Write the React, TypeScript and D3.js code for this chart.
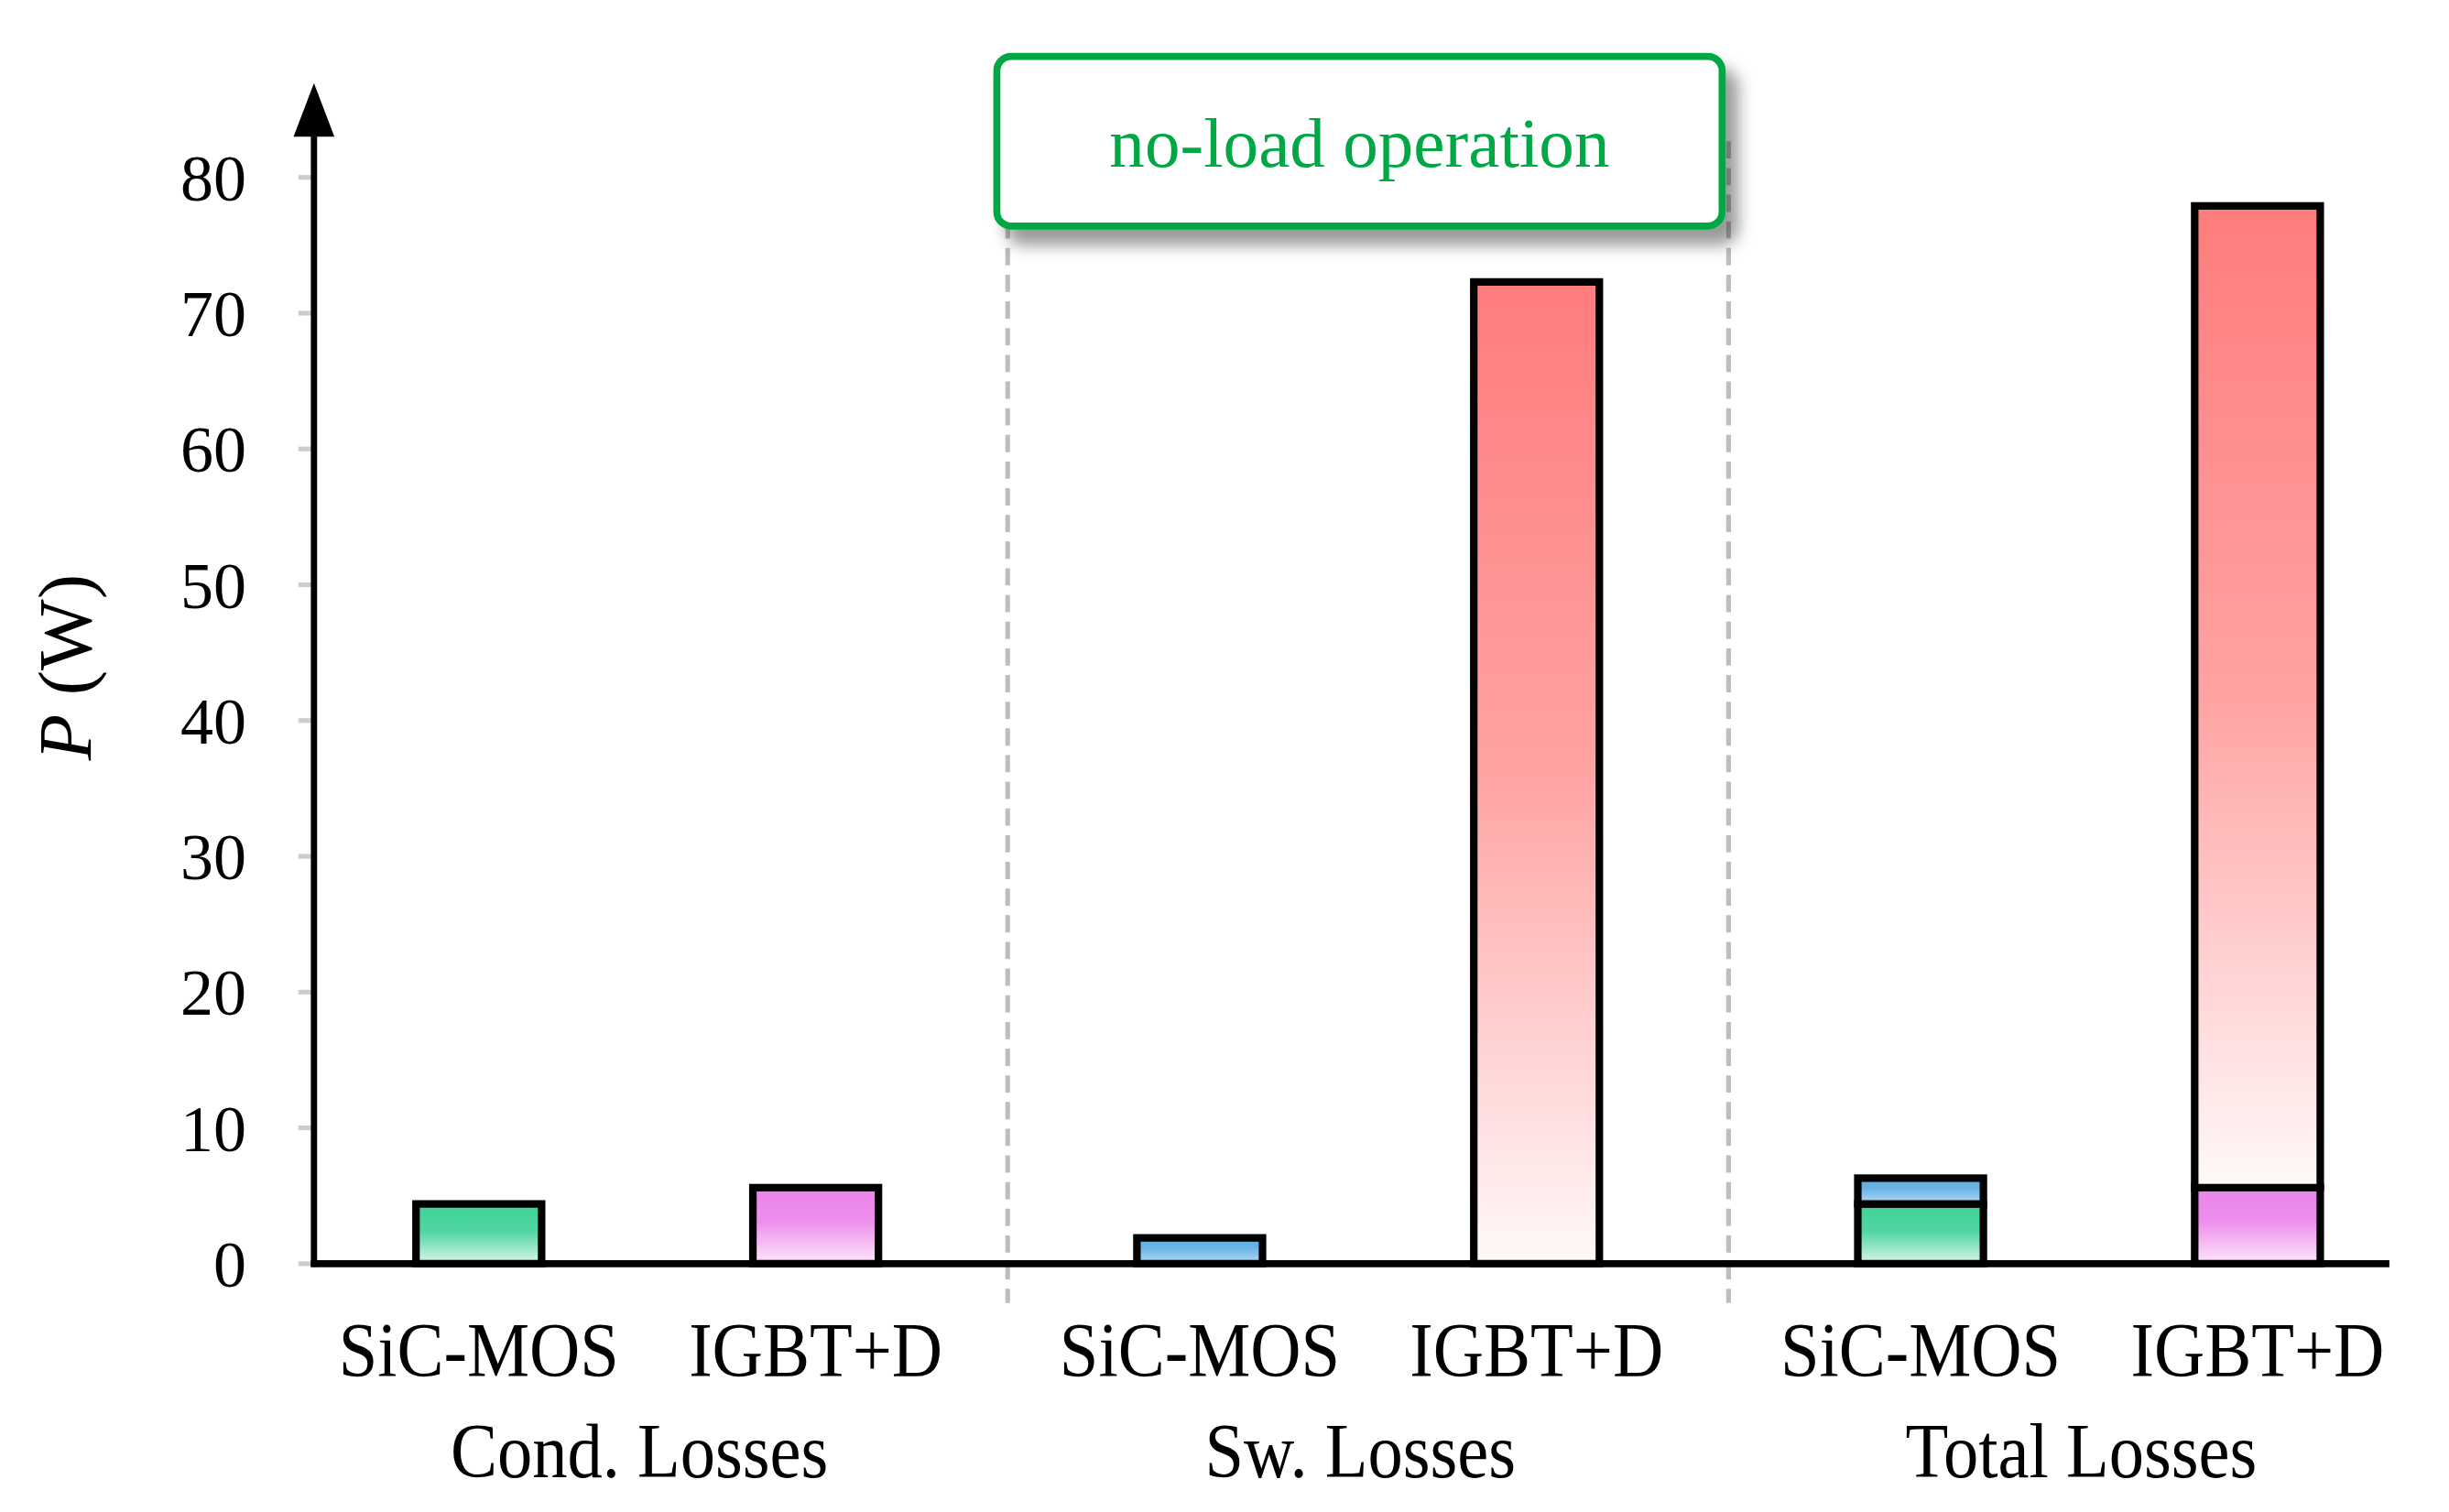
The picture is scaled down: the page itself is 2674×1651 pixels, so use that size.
import React from 'react';
import * as d3 from 'd3';

// values (W)
const devices = ['SiC-MOS', 'IGBT+D'];
const groups = ['Cond. Losses', 'Sw. Losses', 'Total Losses'];
const condLosses = [4.4, 5.6];
const swLosses = [1.9, 72.3];
const yTicks = [0, 10, 20, 30, 40, 50, 60, 70, 80];
const note = 'no-load operation';

// gradient colours per loss type and device
const condFills = [
  ['#3fd39a', '#4fd5a1', '#dcf7ec'],
  ['#ea84ea', '#ee8fec', '#fde6fa'],
];
const swFills = [
  ['#5eaee0', '#6ab4e3', '#b2dbf5'],
  ['#ff7c7c', '#ffa3a3', '#fff9f9'],
];

const W = 1560;
const H = (W * 1651) / 2674;
const FONT = '"Liberation Serif", "Times New Roman", serif';

export default function App() {
  const margin = { left: 200, right: 1522, bottom: 805, top: 113 };

  const y = d3.scaleLinear().domain([0, 80]).range([margin.bottom, margin.top]);

  // slot index per bar, with a little extra room between groups
  const groupGap = 0.14;
  const slotIndex = (gi: number, di: number) => gi * (devices.length + groupGap) + di;
  const x = d3.scaleLinear()
    .domain([0, slotIndex(groups.length - 1, devices.length - 1)])
    .range([305, 1438]);
  const barW = 80;

  const bx = (gi: number, di: number) => x(slotIndex(gi, di));
  const groupCenter = (gi: number) => (bx(gi, 0) + bx(gi, 1)) / 2;
  const separators = [0, 1].map(gi => (bx(gi, 1) + bx(gi + 1, 0)) / 2);

  // build the stacked segments
  type Seg = { key: string; cx: number; y0: number; y1: number; fill: string };
  const segs: Seg[] = [];
  devices.forEach((_, i) => {
    segs.push({ key: `c${i}`, cx: bx(0, i), y0: 0, y1: condLosses[i], fill: `cond${i}` });
    segs.push({ key: `s${i}`, cx: bx(1, i), y0: 0, y1: swLosses[i], fill: `sw${i}` });
    segs.push({ key: `tc${i}`, cx: bx(2, i), y0: 0, y1: condLosses[i], fill: `cond${i}` });
    segs.push({
      key: `ts${i}`, cx: bx(2, i), y0: condLosses[i],
      y1: condLosses[i] + swLosses[i], fill: `sw${i}`,
    });
  });

  const grad = (id: string, c: string[], mid: number) => (
    <linearGradient id={id} key={id} x1="0" y1="0" x2="0" y2="1">
      <stop offset="0%" stopColor={c[0]} />
      <stop offset={`${mid}%`} stopColor={c[1]} />
      <stop offset="100%" stopColor={c[2]} />
    </linearGradient>
  );

  const box = { x: 635, y: 36, w: 462, h: 108 };

  return (
    <svg
      width={2674}
      height={1651}
      viewBox={`0 0 ${W} ${H}`}
      style={{ position: 'absolute', left: 0, top: 0, background: '#fff' }}
      fontFamily={FONT}
    >
      <defs>
        {condFills.map((c, i) => grad(`cond${i}`, c, 45))}
        {swFills.map((c, i) => grad(`sw${i}`, c, i === 1 ? 50 : 40))}
        <filter id="shadow" x="-10%" y="-20%" width="130%" height="170%">
          <feDropShadow dx="8" dy="10" stdDeviation="5" floodColor="#000" floodOpacity="0.4" />
        </filter>
      </defs>

      {/* group separators */}
      {separators.map((sx, i) => (
        <line key={i} x1={sx} x2={sx} y1={90} y2={830}
          stroke="#bdbdbd" strokeWidth={3} strokeDasharray="11 6" />
      ))}

      {/* y ticks */}
      {yTicks.map(t => (
        <g key={t}>
          <line x1={margin.left - 10} x2={margin.left} y1={y(t)} y2={y(t)} stroke="#cccccc" strokeWidth={3} />
          <text x={157} y={y(t)} dy="0.35em" textAnchor="end" fontSize={42} fill="#000">{t}</text>
        </g>
      ))}

      {/* bars */}
      {segs.map(s => (
        <rect key={s.key} x={s.cx - barW / 2} y={y(s.y1)} width={barW} height={y(s.y0) - y(s.y1)}
          fill={`url(#${s.fill})`} stroke="#000" strokeWidth={4.8} />
      ))}

      {/* axes */}
      <line x1={margin.left} x2={margin.left} y1={margin.bottom + 2} y2={80} stroke="#000" strokeWidth={4} />
      <path d={`M${margin.left},53 L${margin.left + 13},87 L${margin.left - 13},87 Z`} fill="#000" />
      <line x1={margin.left - 2} x2={margin.right} y1={margin.bottom} y2={margin.bottom} stroke="#000" strokeWidth={4.5} />

      {/* y label */}
      <text transform="translate(58,425) rotate(-90)" textAnchor="middle" fontSize={48} fill="#000">
        <tspan fontStyle="italic">P</tspan> (W)
      </text>

      {/* category labels */}
      {groups.map((g, gi) => devices.map((d, di) => (
        <text key={`${g}${d}`} transform={`translate(${bx(gi, di)},877) scale(0.95,1.05)`}
          textAnchor="middle" fontSize={47} fill="#000">
          {d}
        </text>
      )))}
      {groups.map((g, gi) => (
        <text key={g} transform={`translate(${groupCenter(gi) - 5},941) scale(0.95,1.05)`}
          textAnchor="middle" fontSize={47} fill="#000">{g}</text>
      ))}

      {/* annotation */}
      <rect x={box.x} y={box.y} width={box.w} height={box.h} rx={9} ry={9}
        fill="#fff" stroke="#00a845" strokeWidth={4.5} filter="url(#shadow)" />
      <text x={box.x + box.w / 2} y={106} textAnchor="middle" fontSize={45} fill="#00a845">{note}</text>
    </svg>
  );
}
